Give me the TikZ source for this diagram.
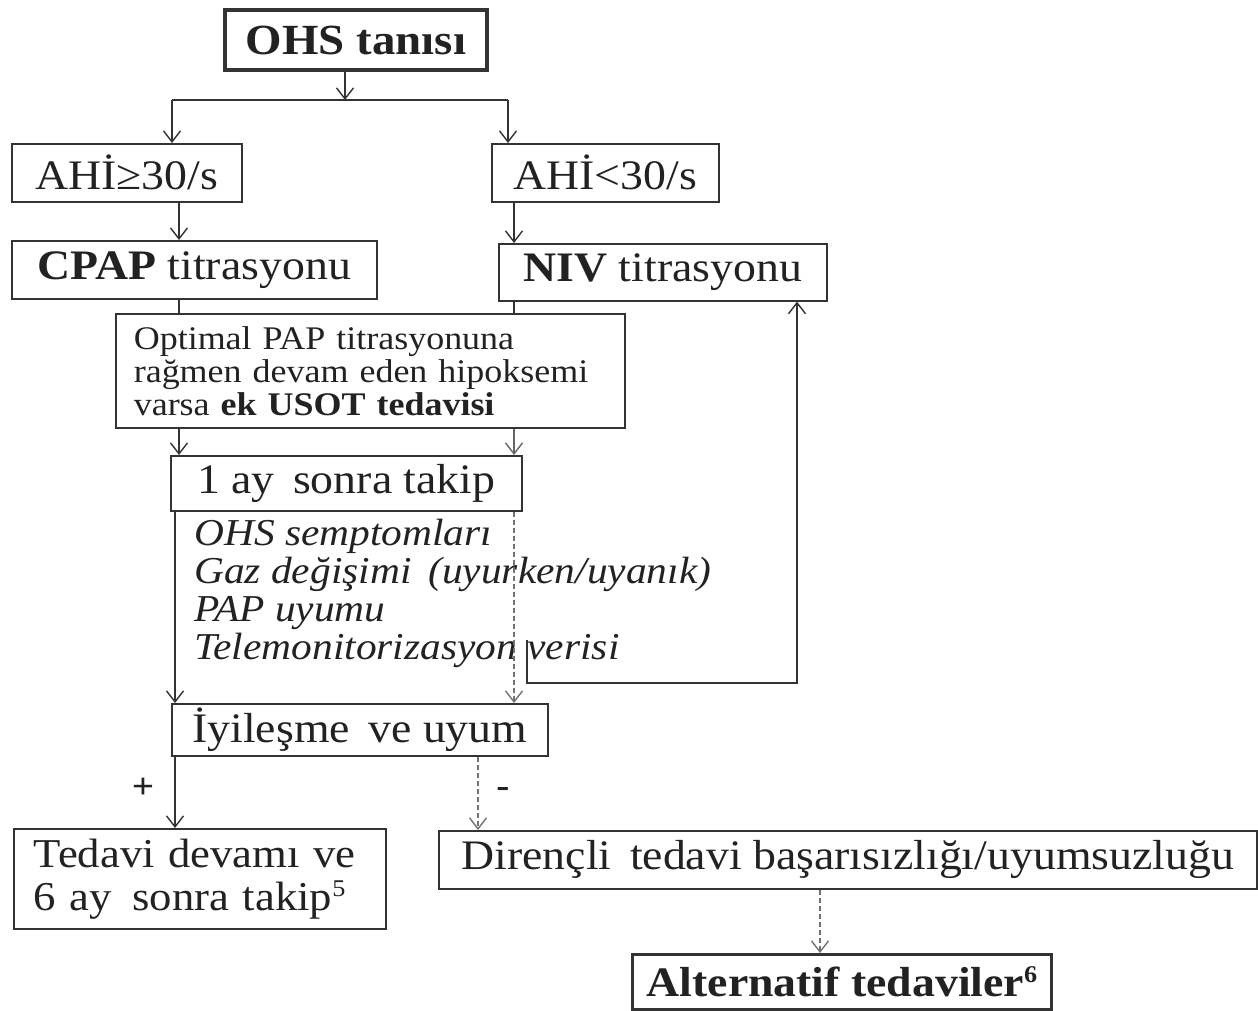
\documentclass[tikz,border=0pt]{standalone}
\usepackage{fontspec}
\setmainfont[FakeStretch=1.09]{Liberation Serif}
\usetikzlibrary{arrows.meta}
\definecolor{ink}{HTML}{222222}
\definecolor{rule}{HTML}{333333}
\newcommand{\supnum}[1]{\raisebox{0.34em}{\fontsize{24}{24}\selectfont #1}}
\begin{document}
\begin{tikzpicture}[x=1pt,y=-1pt,
  box/.style={draw=rule, line width=1.6pt, anchor=north west, inner sep=0pt,
    fill=white, text=ink, font=\fontsize{42}{46}\selectfont},
  lbox/.style={box, align=left, inner xsep=18pt},
  link/.style={draw=rule, line width=1.4pt},
  arr/.style={link, -{Straight Barb[length=11pt,width=17pt,line width=1.4pt]}},
  dots/.style={arr, draw=black!55, dash pattern=on 5pt off 3pt},
  sign/.style={text=ink, font=\bfseries\fontsize{36}{40}\selectfont, inner sep=0pt},
]
\useasboundingbox (0,0) rectangle (1258,1010);

% column positions of the vertical connectors
\coordinate (colL)  at (179,0);
\coordinate (colLL) at (175,0);
\coordinate (colR)  at (514,0);
\coordinate (colM)  at (478,0);
\coordinate (colA)  at (820,0);

% boxes
\node[box, line width=4pt, minimum width=262pt, minimum height=60pt,
      font=\bfseries\fontsize{43}{48}\selectfont] (ohs) at (223,8) {OHS tanısı};
\node[box, minimum width=230pt, minimum height=58pt] (ahiH) at (11,143) {AHİ≥30/s};
\node[box, minimum width=227pt, minimum height=58pt] (ahiL) at (491,143) {AHİ<30/s};
\node[box, minimum width=365pt, minimum height=58pt] (cpap) at (11,240) {\textbf{CPAP} titrasyonu};
\node[box, minimum width=328pt, minimum height=57pt] (niv) at (498,243) {\textbf{NIV} titrasyonu};
\node[lbox, minimum width=509pt, minimum height=114pt, text width=473pt,
      font=\fontsize{33}{33}\selectfont] (opt) at (115,313)
  {Optimal PAP titrasyonuna\\rağmen devam eden hipoksemi\\varsa \textbf{ek USOT tedavisi}};
\node[box, minimum width=351pt, minimum height=55pt] (one) at (170,455) {1 ay\, sonra takip};
\node[anchor=north west, inner sep=0pt, align=left, text=ink,
      font=\itshape\fontsize{38}{38}\selectfont] (crit) at (194,519)
  {OHS semptomları\\Gaz değişimi\, (uyurken/uyanık)\\PAP uyumu\\Telemonitorizasyon verisi};
\node[box, minimum width=376pt, minimum height=52pt] (iyi) at (171,703) {İyileşme\, ve uyum};
\node[lbox, inner xsep=20pt, minimum width=372pt, minimum height=100pt, text width=332pt,
      font=\fontsize{41}{43}\selectfont] (ted) at (13,828)
  {Tedavi devamı ve\\6 ay\, sonra takip\supnum{5}};
\node[box, minimum width=818pt, minimum height=58pt] (dir) at (438,830)
  {Dirençli\, tedavi başarısızlığı/uyumsuzluğu};
\node[box, line width=3pt, minimum width=419pt, minimum height=55pt,
      font=\bfseries\fontsize{42}{46}\selectfont] (alt) at (631,953)
  {Alternatif tedaviler\supnum{\bfseries 6}};

% split below the diagnosis
\coordinate (split) at (345,100);
\coordinate (jl) at (172,100);
\coordinate (jr) at (508,100);
\draw[arr] (ohs.south -| split) -- (split);
\draw[link] (jl) -- (jr);
\draw[arr] (jl) -- (jl |- ahiH.north);
\draw[arr] (jr) -- (jr |- ahiL.north);

% titration branches
\draw[arr] (ahiH.south -| colL) -- (cpap.north -| colL);
\draw[arr] (ahiL.south -| colR) -- (niv.north -| colR);
\draw[link] (cpap.south -| colL) -- (opt.north -| colL);
\draw[link] (niv.south -| colR) -- (opt.north -| colR);
\draw[arr] (opt.south -| colL) -- (one.north -| colL);
\draw[arr, draw=black!60] (opt.south -| colR) -- (one.north -| colR);

% follow-up
\draw[arr] (one.south -| colLL) -- (iyi.north -| colLL);
\draw[dots] (one.south -| colR) -- (iyi.north -| colR);

% back to NIV titration
\coordinate (fb) at (527,640);
\coordinate (fbc) at (797,683);
\draw[arr] (fb) |- (fbc) -- (fbc |- niv.south);

% outcome
\draw[arr] (iyi.south -| colLL) -- (ted.north -| colLL);
\draw[dots] (iyi.south -| colM) -- (dir.north -| colM);
\draw[dots] (dir.south -| colA) -- (alt.north -| colA);
\node[sign] (plus) at (143,788) {+};
\node[sign] (minus) at (503,792) {-};
\end{tikzpicture}
\end{document}
